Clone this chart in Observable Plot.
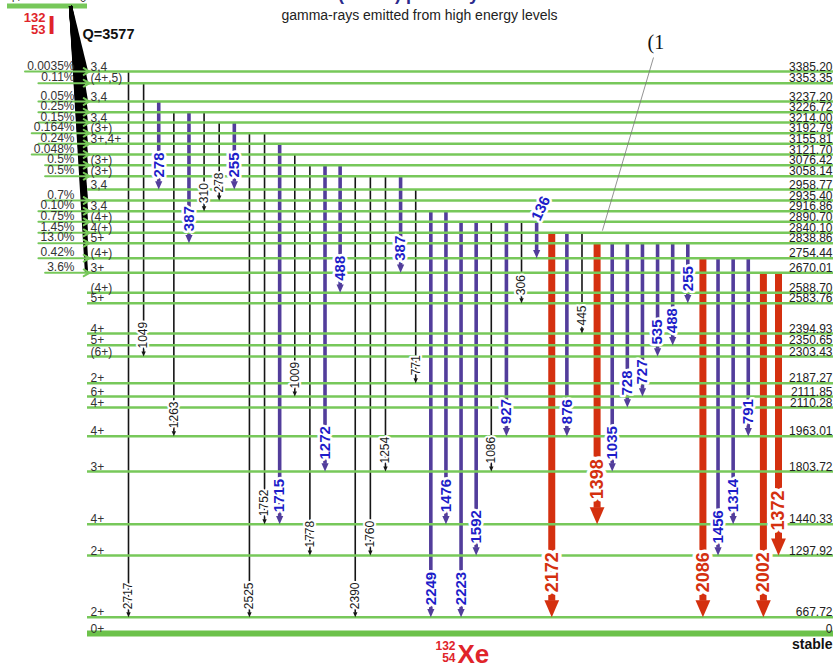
<!DOCTYPE html>
<html>
<head>
<meta charset="utf-8">
<script src="https://cdn.jsdelivr.net/npm/d3@7"></script>
<script src="https://cdn.jsdelivr.net/npm/@observablehq/plot@0.6"></script>
<style>
  body { margin: 0; background: #fff; }
  #chart svg { display: block; }
</style>
</head>
<body>
<div id="chart"></div>
<script>
// 132I -> 132Xe: levels of the daughter (keV), spin-parity and beta feeding
const Q = 3577;
const levelEnergy = [3385.20, 3353.35, 3237.20, 3226.72, 3214.00, 3192.79, 3155.81, 3121.70,
  3076.42, 3058.14, 2958.77, 2935.40, 2916.86, 2890.70, 2840.10, 2838.86, 2754.44, 2670.01,
  2588.70, 2583.76, 2394.93, 2350.65, 2303.43, 2187.27, 2111.85, 2110.28, 1963.01, 1803.72,
  1440.33, 1297.92, 667.72, 0];
const levelSpin = ["3,4", "(4+,5)", "3,4", "", "3,4", "(3+)", "3+,4+", "",
  "(3+)", "(3+)", "3,4", "", "3,4", "(4+)", "4(+)", "5+", "(4+)", "3+",
  "(4+)", "5+", "4+", "5+", "(6+)", "2+", "6+", "4+", "4+", "3+",
  "4+", "2+", "2+", "0+"];
const betaFeeding = ["0.0035%", "0.11%", "0.05%", "0.25%", "0.15%", "0.164%", "0.24%", "0.048%",
  "0.5%", "0.5%", "", "0.7%", "0.10%", "0.75%", "1.45%", "13.0%", "0.42%", "3.6%",
  "", "", "", "", "", "", "", "", "", "", "", "", "", ""];

// gamma transitions, left to right: initial level, final level, energy label, intensity class
const gammaFrom = [3385.20, 3353.35, 3237.20, 3226.72, 3226.72, 3226.72, 3214.00, 3214.00,
  3192.79, 3192.79, 3155.81, 3121.70, 3076.42, 3076.42, 3076.42, 3058.14, 3058.14, 3058.14,
  3058.14, 2958.77, 2916.86, 2916.86, 2890.70, 2890.70, 2890.70, 2890.70, 2890.70, 2890.70,
  2840.10, 2840.10, 2840.10, 2838.86, 2838.86, 2838.86, 2838.86, 2838.86, 2838.86, 2838.86,
  2754.44, 2754.44, 2754.44, 2754.44, 2670.01, 2670.01];
const gammaTo = [667.72, 2303.43, 2958.77, 1963.01, 2838.86, 2916.86, 2935.40, 2958.77,
  667.72, 1440.33, 1440.33, 2111.85, 1297.92, 1803.72, 2588.70, 667.72, 1297.92, 1803.72,
  2670.01, 2187.27, 667.72, 1440.33, 667.72, 1297.92, 1803.72, 1963.01, 2583.76, 2754.44,
  667.72, 1963.01, 2394.93, 1440.33, 1803.72, 2110.28, 2111.85, 2303.43, 2350.65, 2583.76,
  667.72, 1297.92, 1440.33, 1963.01, 667.72, 1297.92];
const gammaLabel = ["2717", "1049", "278", "1263", "387", "310", "278", "255",
  "2525", "1752", "1715", "1009", "1778", "1272", "488", "2390", "1760", "1254",
  "387", "771", "2249", "1476", "2223", "1592", "1086", "927", "306", "136",
  "2172", "876", "445", "1398", "1035", "728", "727", "535", "488", "255",
  "2086", "1456", "1314", "791", "2002", "1372"];
const gammaIntensity = ["weak", "weak", "medium", "weak", "medium", "weak", "weak", "medium",
  "weak", "weak", "medium", "weak", "weak", "medium", "medium", "weak", "weak", "weak",
  "medium", "weak", "medium", "medium", "medium", "medium", "weak", "medium", "weak", "medium",
  "strong", "medium", "weak", "strong", "medium", "medium", "medium", "medium", "medium", "medium",
  "strong", "medium", "medium", "medium", "strong", "strong"];

// ---- tables built from the arrays ----
const levels = levelEnergy.map((E, i) => ({
  E, spin: levelSpin[i], feed: betaFeeding[i], label: E === 0 ? "0" : E.toFixed(2)
}));
const fed = levels.filter(d => d.feed);
const gammas = gammaFrom.map((from, i) => ({
  col: i, from, to: gammaTo[i], label: gammaLabel[i], kind: gammaIntensity[i]
}));

// ---- layout: schematic (non-linear) level spacing, one column per transition ----
const yLayout = {
  domain: [0, 667.72, 1297.92, 1440.33, 1803.72, 1963.01, 2110.28, 2111.85, 2187.27, 2303.43,
    2350.65, 2394.93, 2583.76, 2588.70, 2670.01, 2754.44, 2838.86, 2840.10, 2890.70, 2916.86,
    2935.40, 2958.77, 3058.14, 3076.42, 3121.70, 3155.81, 3192.79, 3214.00, 3226.72, 3237.20,
    3353.35, 3385.20, 3577],
  range: [633, 616.7, 555, 523.7, 471, 435.7, 407, 396, 382.7, 356,
    344.7, 333, 302.7, 292.3, 272.3, 257.7, 242.7, 232.3, 221.3, 210.7,
    200, 189, 175.7, 164.7, 154, 143.3, 132.7, 122, 111.7, 101,
    82.7, 71, 5.5]
};
const xLayout = {domain: [0, gammas.length - 1], range: [128, 778]};
const X = d3.scaleLinear(xLayout.domain, xLayout.range);
const Y = d3.scaleLinear(yLayout.domain, yLayout.range);
const px = v => X.invert(v); // gutter positions expressed in column units

const GREEN = "#77c85a";
const style = {
  weak:   {stroke: "#151515", width: 1.6, r: 2.2, size: 12, weight: "normal", text: "#1a1a1a", gap: 8,  halo: 4},
  medium: {stroke: "#523d9b", width: 3.6, r: 3.6, size: 15, weight: "bold",   text: "#1d1dc9", gap: 12, halo: 5},
  strong: {stroke: "#d4300f", width: 7,   r: 7.4, size: 18, weight: "bold",   text: "#d4300f", gap: 25, halo: 7}
};

// filled arrowhead with its tip at the anchor point, pointing down
const head = {
  draw(ctx, size) {
    const r = Math.sqrt(size / Math.PI);
    ctx.moveTo(0, 0);
    ctx.lineTo(-r, -2.3 * r);
    ctx.lineTo(r, -2.3 * r);
    ctx.closePath();
  }
};

// label does not fit on the arrow: put it above the initial level, tilted
const labelLen = d => d.label.length * style[d.kind].size * 0.556;
const fits = d => Y(d.to) - Y(d.from) > labelLen(d) + style[d.kind].gap + 4;

// approximate text width of a feeding label at 12px
const textW = s => [...s].reduce((w, c) => w + (c === "." ? 3.3 : c === "%" ? 10.7 : 6.7), 0);

const marks = [];

// transition shafts
for (const kind of ["weak", "medium", "strong"]) {
  const s = style[kind];
  marks.push(Plot.ruleX(gammas.filter(d => d.kind === kind), {
    x: "col", y1: "from", y2: "to", stroke: s.stroke, strokeWidth: s.width,
    insetBottom: s.r * 2.3 - 1
  }));
}

// parent level of 132I
marks.push(Plot.ruleY([Q], {x1: px(7), x2: px(87), stroke: GREEN, strokeWidth: 5}));

// beta feeding fan from the parent
marks.push(Plot.link(fed, {
  x1: px(70), y1: Q, x2: px(86), y2: "E", stroke: "#000", strokeWidth: 3.2
}));

// levels
marks.push(Plot.ruleY(levels.filter(d => d.E > 0), {
  y: "E", x1: px(87), x2: px(833), stroke: GREEN, strokeWidth: 2.4
}));
marks.push(Plot.ruleY([0], {x1: px(87), x2: px(833), stroke: "#6cc24a", strokeWidth: 6}));

// feeding arrows
marks.push(Plot.arrow(fed, {
  x1: d => px(74 - textW(d.feed) - 2), x2: px(89), y1: "E", y2: "E",
  stroke: GREEN, strokeWidth: 2, headLength: 5
}));

const font = "Liberation Sans, Arial, sans-serif";

// feeding percentages, spins, level energies
marks.push(Plot.text(fed, {
  x: px(74), y: "E", text: "feed", textAnchor: "end", lineAnchor: "bottom", dy: -2,
  fontSize: 12, fill: "#333"
}));
marks.push(Plot.text(levels, {
  x: px(90), y: "E", text: "spin", textAnchor: "start", lineAnchor: "bottom", dy: -1,
  fontSize: 12, fill: "#333"
}));
marks.push(Plot.text(levels, {
  x: px(832), y: "E", text: "label", textAnchor: "end", lineAnchor: "bottom", dy: -1,
  fontSize: 12, fill: "#222"
}));

// transition labels and arrowheads
for (const kind of ["weak", "medium", "strong"]) {
  const s = style[kind];
  const g = gammas.filter(d => d.kind === kind);
  marks.push(Plot.text(g.filter(fits), {
    x: "col", y: "to", text: "label", rotate: -90, textAnchor: "start", dy: -s.gap,
    fontSize: s.size, fontWeight: s.weight, fill: s.text,
    stroke: "white", strokeWidth: s.halo, strokeLinejoin: "round", paintOrder: "stroke"
  }));
  marks.push(Plot.text(g.filter(d => !fits(d)), {
    x: "col", y: "from", text: "label", rotate: -65, textAnchor: "start", dy: -2, dx: -1,
    fontSize: s.size, fontWeight: s.weight, fill: s.text,
    stroke: "white", strokeWidth: s.halo, strokeLinejoin: "round", paintOrder: "stroke"
  }));
  marks.push(Plot.dot(g, {x: "col", y: "to", symbol: head, r: s.r, fill: s.stroke, stroke: "none"}));
}

// parent / daughter nuclide labels and headings
const note = (text, dx, dy, o = {}) =>
  Plot.text([text], {frameAnchor: "top-left", dx, dy, lineAnchor: "bottom", ...o});
marks.push(
  note("¹³²I (2.30 h) β⁻ decay scheme", 430, -1, {textAnchor: "middle", fontSize: 18, fontWeight: "bold", fill: "#2a2a8c"}),
  note("gamma-rays emitted from high energy levels", 419, 19, {textAnchor: "middle", fontSize: 14, fill: "#222"}),
  note("4+", 8, 1, {textAnchor: "start", fontSize: 12, fill: "#333"}),
  note("0", 86, 1, {textAnchor: "end", fontSize: 12, fill: "#333"}),
  note("132", 45, 21, {textAnchor: "end", fontSize: 13, fontWeight: "bold", fill: "#e0242a"}),
  note("53", 45, 33, {textAnchor: "end", fontSize: 13, fontWeight: "bold", fill: "#e0242a"}),
  note("I", 47.5, 33.5, {textAnchor: "start", fontSize: 26, fontWeight: "bold", fill: "#e0242a"}),
  note(`Q=${Q}`, 82, 38, {textAnchor: "start", fontSize: 14.5, fontWeight: "bold", fill: "#111"}),
  note("132", 455, 649, {textAnchor: "end", fontSize: 12, fontWeight: "bold", fill: "#e0242a"}),
  note("54", 455, 661, {textAnchor: "end", fontSize: 12, fontWeight: "bold", fill: "#e0242a"}),
  note("Xe", 457, 662, {textAnchor: "start", fontSize: 26, fontWeight: "bold", fill: "#e0242a"}),
  note("stable", 832, 648, {textAnchor: "end", fontSize: 14, fontWeight: "bold", fill: "#111"}),
  note("(1", 647, 48, {textAnchor: "start", fontSize: 20, fill: "#111", fontFamily: "Liberation Serif, Times New Roman, serif"})
);
// leader from the note down to the 1398 keV transition
marks.push(Plot.link([{col: 31}], {
  x1: px(653), y1: Y.invert(57), x2: d => d.col + 0.35, y2: 2850,
  stroke: "#777", strokeWidth: 0.8
}));

const chart = Plot.plot({
  width: 833,
  height: 664,
  margin: 0,
  x: {type: "linear", domain: xLayout.domain, range: xLayout.range, axis: null},
  y: {type: "linear", domain: yLayout.domain, range: yLayout.range, axis: null},
  style: {fontFamily: font, background: "white", overflow: "visible"},
  marks
});
document.getElementById("chart").append(chart);
</script>
</body>
</html>
